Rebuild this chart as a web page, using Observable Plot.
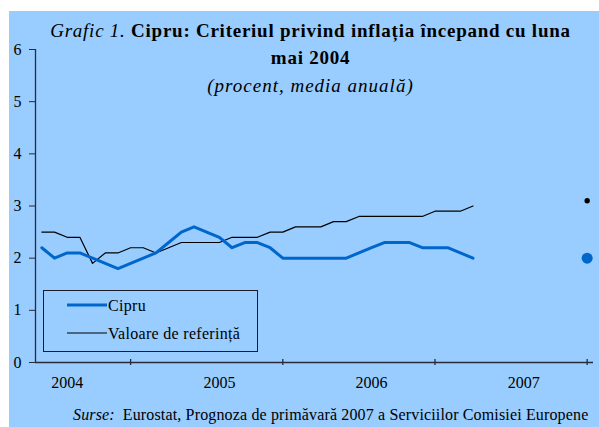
<!DOCTYPE html>
<html>
<head>
<meta charset="utf-8">
<script src="https://cdn.jsdelivr.net/npm/d3@7"></script>
<script src="https://cdn.jsdelivr.net/npm/@observablehq/plot@0.6"></script>
<style>
  html, body { margin: 0; padding: 0; background: #ffffff; }
  #wrap { position: absolute; left: 9px; top: 11px; width: 590px; height: 416px; background: #99CCFF; overflow: hidden; }
  #wrap svg { display: block; }
</style>
</head>
<body>
<div id="wrap"></div>
<script>
// ---- data (monthly, starting May 2004) ----
const startYear = 2004, startMonth = 5;
const cipru = [2.2,2.0,2.1,2.1,2.0,1.9,1.8,1.9,2.0,2.1,2.3,2.5,2.6,2.5,2.4,2.2,2.3,2.3,2.2,2.0,2.0,2.0,2.0,2.0,2.0,2.1,2.2,2.3,2.3,2.3,2.2,2.2,2.2,2.1,2.0];
const referinta = [2.5,2.5,2.4,2.4,1.9,2.1,2.1,2.2,2.2,2.1,2.2,2.3,2.3,2.3,2.3,2.4,2.4,2.4,2.5,2.5,2.6,2.6,2.6,2.7,2.7,2.8,2.8,2.8,2.8,2.8,2.8,2.9,2.9,2.9,3.0];
const forecastMonth = "2007-12";
const forecastCipru = 2.0;
const forecastReferinta = 3.1;
const yearLabels = ["2004", "2005", "2006", "2007"];
const yTicks = [0, 1, 2, 3, 4, 5, 6];
const seriesNames = ["Cipru", "Valoare de referință"];

const titleItalic = "Grafic 1.";
const titleBold1 = " Cipru: Criteriul privind inflația începand cu luna";
const titleBold2 = "mai 2004";
const subtitle = "(procent, media anuală)";
const captionItalic = "Surse:";
const captionText = "Eurostat, Prognoza de primăvară 2007 a Serviciilor Comisiei Europene";

// ---- helpers ----
const monthIdx = (y, m) => (y - startYear) * 12 + (m - startMonth);
const fIdx = monthIdx(+forecastMonth.slice(0, 4), +forecastMonth.slice(5, 7));
const tickIdx = yearLabels.map(y => monthIdx(+y, 12));
const serif = "'Liberation Serif', 'Times New Roman', Times, serif";
const BLUE = "#0066CC";
const AX = "#2b2b3a";

const chart = Plot.plot({
  width: 590,
  height: 416,
  marginLeft: 26,
  marginRight: 6,
  marginTop: 38,
  marginBottom: 65,
  style: { background: "transparent", fontFamily: serif, fontSize: "16px", color: "#000", overflow: "visible" },
  x: { domain: [-0.5, fIdx + 0.5], axis: null },
  y: { domain: [0, 6], axis: null },
  marks: [
    Plot.axisY({ ticks: yTicks, tickSize: 6, tickPadding: 8, tickFormat: d => String(d), fontSize: 16, stroke: AX, fill: "#000" }),
    Plot.ruleX([-0.5], { y1: 0, y2: 6, stroke: AX, strokeWidth: 1.3 }),
    Plot.ruleY([0], { stroke: AX, strokeWidth: 1.3 }),
    Plot.ruleX(tickIdx, { y1: 0, y2: 0, insetTop: -3, insetBottom: -3, stroke: AX, strokeWidth: 1.3 }),
    Plot.text(yearLabels, { x: d => monthIdx(+d, 7), frameAnchor: "bottom", dy: 25, fontSize: 16, fill: "#000" }),
    Plot.line(referinta, { x: (d, i) => i, y: d => d, stroke: "#000", strokeWidth: 1.2 }),
    Plot.line(cipru, { x: (d, i) => i, y: d => d, stroke: BLUE, strokeWidth: 3 }),
    Plot.dot([forecastReferinta], { x: () => fIdx, y: d => d, r: 2.7, fill: "#000", stroke: null }),
    Plot.dot([forecastCipru], { x: () => fIdx, y: d => d, r: 5.5, fill: BLUE, stroke: null })
  ]
});

document.getElementById("wrap").appendChild(chart);

// ---- title, subtitle, legend, caption (text overlays) ----
const svg = d3.select(chart);
const cx = 301.5;
const t1 = svg.append("text").attr("x", cx).attr("y", 26).attr("text-anchor", "middle")
  .attr("font-family", serif).attr("font-size", 19).attr("letter-spacing", 0.75).attr("fill", "#000");
t1.append("tspan").attr("font-style", "italic").text(titleItalic);
t1.append("tspan").attr("font-weight", "bold").text(titleBold1);
svg.append("text").attr("x", cx).attr("y", 52.5).attr("text-anchor", "middle")
  .attr("font-family", serif).attr("font-size", 19).attr("letter-spacing", 0.75).attr("font-weight", "bold").attr("fill", "#000").text(titleBold2);
svg.append("text").attr("x", cx).attr("y", 81).attr("text-anchor", "middle")
  .attr("font-family", serif).attr("font-size", 19).attr("letter-spacing", 1).attr("font-style", "italic").attr("fill", "#000").text(subtitle);

// legend
const lg = svg.append("g").attr("font-family", serif).attr("font-size", 16).attr("letter-spacing", 0.3).attr("fill", "#000").attr("text-anchor", "start");
lg.append("rect").attr("x", 34.5).attr("y", 279.5).attr("width", 214).attr("height", 61)
  .attr("fill", "none").attr("stroke", "#1a1a2a").attr("stroke-width", 1);
lg.append("line").attr("x1", 58).attr("x2", 98).attr("y1", 294).attr("y2", 294).attr("stroke", BLUE).attr("stroke-width", 3);
lg.append("text").attr("x", 99).attr("y", 299.5).text(seriesNames[0]);
lg.append("line").attr("x1", 58).attr("x2", 98).attr("y1", 322).attr("y2", 322).attr("stroke", "#000").attr("stroke-width", 1.2);
lg.append("text").attr("x", 99).attr("y", 327.5).text(seriesNames[1]);

// caption
const cap = svg.append("text").attr("x", 64).attr("y", 408.5).attr("text-anchor", "start")
  .attr("font-family", serif).attr("font-size", 16).attr("letter-spacing", 0.15).attr("fill", "#000");
cap.append("tspan").attr("font-style", "italic").text(captionItalic);
cap.append("tspan").attr("dx", 8).text(captionText);
</script>
</body>
</html>
